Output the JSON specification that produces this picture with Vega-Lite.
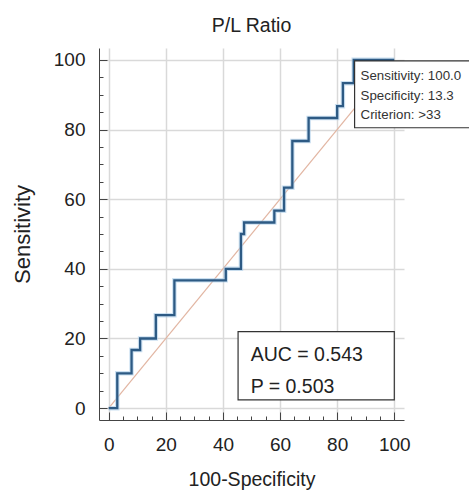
{
  "$schema": "https://vega.github.io/schema/vega-lite/v6.json",
  "autosize": {"type": "none"},
  "width": 305,
  "height": 372,
  "padding": {"left": 99, "top": 48, "right": 65, "bottom": 73},
  "background": "white",
  "title": {"text": "P/L Ratio", "font": "Liberation Sans", "fontSize": 19.5, "fontWeight": "normal", "color": "#222", "anchor": "middle", "frame": "group", "baseline": "alphabetic", "offset": -3},
  "config": {
    "view": {"stroke": null},
    "axis": {"domainColor": "#444", "tickColor": "#444", "gridColor": "#d9d9d9", "gridWidth": 1.5, "labelFont": "Liberation Sans", "labelFontSize": 19, "labelColor": "#222", "titleFont": "Liberation Sans", "titleFontSize": 19.5, "titleFontWeight": "normal", "titleColor": "#222"}
  },
  "datasets": {
    "roc": [
      {"i": 0, "fpr": 0, "sens": 0},
      {"i": 1, "fpr": 3, "sens": 0},
      {"i": 2, "fpr": 3, "sens": 10},
      {"i": 3, "fpr": 8, "sens": 10},
      {"i": 4, "fpr": 8, "sens": 16.7},
      {"i": 5, "fpr": 11, "sens": 16.7},
      {"i": 6, "fpr": 11, "sens": 20},
      {"i": 7, "fpr": 16.5, "sens": 20},
      {"i": 8, "fpr": 16.5, "sens": 26.7},
      {"i": 9, "fpr": 23, "sens": 26.7},
      {"i": 10, "fpr": 23, "sens": 36.7},
      {"i": 11, "fpr": 41, "sens": 36.7},
      {"i": 12, "fpr": 41, "sens": 40},
      {"i": 13, "fpr": 46.3, "sens": 40},
      {"i": 14, "fpr": 46.3, "sens": 50},
      {"i": 15, "fpr": 47.4, "sens": 50},
      {"i": 16, "fpr": 47.4, "sens": 53.3},
      {"i": 17, "fpr": 58, "sens": 53.3},
      {"i": 18, "fpr": 58, "sens": 56.7},
      {"i": 19, "fpr": 61.4, "sens": 56.7},
      {"i": 20, "fpr": 61.4, "sens": 63.3},
      {"i": 21, "fpr": 64.3, "sens": 63.3},
      {"i": 22, "fpr": 64.3, "sens": 76.7},
      {"i": 23, "fpr": 70, "sens": 76.7},
      {"i": 24, "fpr": 70, "sens": 83.3},
      {"i": 25, "fpr": 80, "sens": 83.3},
      {"i": 26, "fpr": 80, "sens": 86.7},
      {"i": 27, "fpr": 82, "sens": 86.7},
      {"i": 28, "fpr": 82, "sens": 93.3},
      {"i": 29, "fpr": 85.8, "sens": 93.3},
      {"i": 30, "fpr": 85.8, "sens": 100},
      {"i": 31, "fpr": 100, "sens": 100}
    ],
    "diag": [
      {"fpr": 0, "sens": 0},
      {"fpr": 100, "sens": 100}
    ],
    "boxes": [
      {"name": "crit", "x1": 86.1, "x2": 130, "y1": 80.5, "y2": 99.7},
      {"name": "auc", "x1": 45.3, "x2": 100, "y1": 2.4, "y2": 22}
    ],
    "crit": [
      {"x": 88.2, "y": 95.4, "label": "Sensitivity: 100.0"},
      {"x": 88.2, "y": 89.7, "label": "Specificity: 13.3"},
      {"x": 88.2, "y": 84.2, "label": "Criterion: >33"}
    ],
    "auc": [
      {"x": 49.7, "y": 15.3, "label": "AUC = 0.543"},
      {"x": 49.7, "y": 6.2, "label": "P = 0.503"}
    ]
  },
  "encoding": {
    "x": {"field": "fpr", "type": "quantitative", "scale": {"domain": [-3.4, 103.4], "nice": false, "zero": false},
      "axis": {"values": [0,5,10,15,20,25,30,35,40,45,50,55,60,65,70,75,80,85,90,95,100],
        "labelExpr": "datum.value % 20 === 0 ? datum.label : ''",
        "tickSize": {"condition": {"test": "datum.value % 20 === 0", "value": -8}, "value": -4},
        "gridOpacity": {"condition": {"test": "datum.value % 20 === 0", "value": 1}, "value": 0},
        "labelPadding": 23, "labelOverlap": false, "title": "100-Specificity", "titlePadding": 12}},
    "y": {"field": "sens", "type": "quantitative", "scale": {"domain": [-3.4, 103.4], "nice": false, "zero": false},
      "axis": {"values": [0,5,10,15,20,25,30,35,40,45,50,55,60,65,70,75,80,85,90,95,100],
        "labelExpr": "datum.value % 20 === 0 ? datum.label : ''",
        "tickSize": {"condition": {"test": "datum.value % 20 === 0", "value": -8}, "value": -4},
        "gridOpacity": {"condition": {"test": "datum.value % 20 === 0", "value": 1}, "value": 0},
        "labelPadding": 22, "labelOverlap": false, "title": "Sensitivity", "titleFontSize": 22, "titlePadding": 19}}
  },
  "layer": [
    {
      "data": {"name": "diag"},
      "mark": {"type": "line", "color": "#e2b5a2", "strokeWidth": 1.2}
    },
    {
      "data": {"name": "roc"},
      "mark": {"type": "line", "color": "#a9cbe8", "strokeWidth": 4.5, "opacity": 0.6},
      "encoding": {"order": {"field": "i", "type": "quantitative"}}
    },
    {
      "data": {"name": "roc"},
      "mark": {"type": "line", "color": "#2d5a84", "strokeWidth": 2.3},
      "encoding": {"order": {"field": "i", "type": "quantitative"}}
    },
    {
      "data": {"name": "boxes"},
      "mark": {"type": "rect", "fill": "white", "stroke": "#333", "strokeWidth": 1.2},
      "encoding": {
        "x": {"field": "x1", "type": "quantitative"},
        "x2": {"field": "x2"},
        "y": {"field": "y1", "type": "quantitative"},
        "y2": {"field": "y2"}
      }
    },
    {
      "data": {"name": "crit"},
      "mark": {"type": "text", "align": "left", "baseline": "middle", "font": "Liberation Sans", "fontSize": 13.3, "color": "#333"},
      "encoding": {
        "x": {"field": "x", "type": "quantitative"},
        "y": {"field": "y", "type": "quantitative"},
        "text": {"field": "label"}
      }
    },
    {
      "data": {"name": "auc"},
      "mark": {"type": "text", "align": "left", "baseline": "middle", "font": "Liberation Sans", "fontSize": 19.5, "color": "#222"},
      "encoding": {
        "x": {"field": "x", "type": "quantitative"},
        "y": {"field": "y", "type": "quantitative"},
        "text": {"field": "label"}
      }
    }
  ]
}
